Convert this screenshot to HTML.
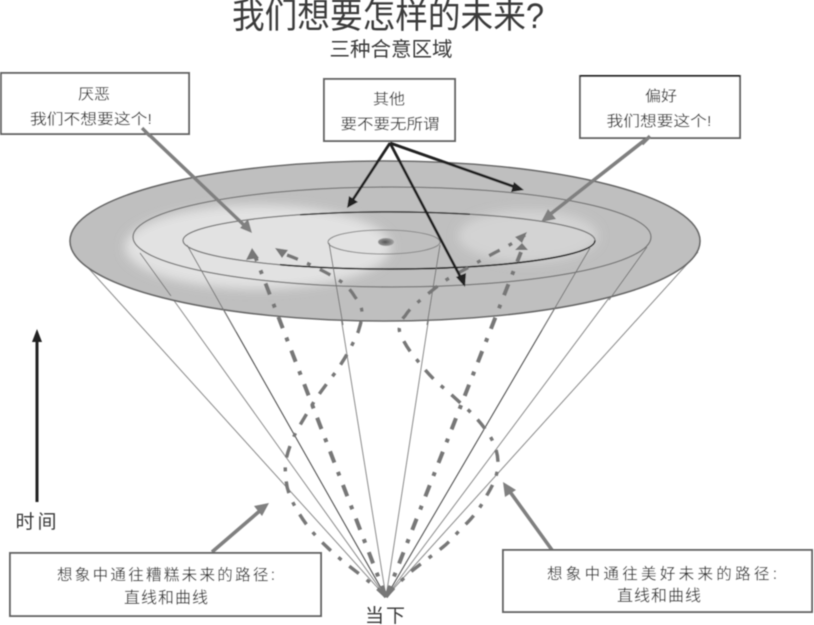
<!DOCTYPE html>
<html><head><meta charset="utf-8">
<style>
html,body{margin:0;padding:0;background:#fff}
svg{display:block}
text{font-family:"Liberation Sans","Noto Sans CJK SC",sans-serif;fill:#3a3a3a;text-anchor:middle}
</style></head>
<body>
<svg width="814" height="625" viewBox="0 0 814 625" xmlns="http://www.w3.org/2000/svg">
<defs>
<filter id="b" x="-20%" y="-30%" width="140%" height="160%"><feGaussianBlur stdDeviation="5"/></filter>
<filter id="s" x="-20%" y="-20%" width="140%" height="140%"><feGaussianBlur stdDeviation="0.45"/></filter>
<clipPath id="disc"><ellipse cx="385" cy="241" rx="315" ry="80"/></clipPath>
<radialGradient id="dot" cx="45%" cy="50%" r="60%"><stop offset="0" stop-color="#555"/><stop offset="1" stop-color="#aaa"/></radialGradient>
</defs>
<g filter="url(#s)">
<!-- cone lines behind -->
<g fill="none" stroke="#8a8a8a" stroke-width="1">
<path d="M72 250L386 597M140 253L386 597M329 243L386 597M440 245L386 597M647 247L386 597M698 252L386 597"/>
<path d="M187 245L386 597M590 248L386 597" stroke="#444"/>
</g>
<!-- disc -->
<ellipse cx="385" cy="241" rx="315" ry="80" fill="#bfbfbf" stroke="#666" stroke-width="1.600"/>
<g clip-path="url(#disc)">
<ellipse cx="258" cy="247" rx="133" ry="42" fill="#e2e2e2" filter="url(#b)"/>
<ellipse cx="528" cy="236" rx="70" ry="26" fill="#d3d3d3" filter="url(#b)"/>
</g>
<ellipse cx="392" cy="237" rx="259" ry="50" fill="none" stroke="#777" stroke-width="1.300"/>
<ellipse cx="389" cy="240.500" rx="206" ry="28.500" fill="none" stroke="#777" stroke-width="1.300"/>
<path d="M595 240.500A206 28.500 0 0 1 280 264.700" fill="none" stroke="#222" stroke-width="1.600"/>
<path d="M300 214.800A206 28.500 0 0 1 470 214.300" fill="none" stroke="#333" stroke-width="1.500"/>
<ellipse cx="384" cy="242" rx="56" ry="12" fill="none" stroke="#8a8a8a" stroke-width="1.100"/>
<ellipse cx="386" cy="242" rx="8" ry="4" fill="url(#dot)"/>
<!-- inner cone lines over disc -->
<path d="M329 243L343 325M440 245L427 325M187 245L236 332M590 248L542 330M140 253L171 296M647 247L609 300" fill="none" stroke="#777" stroke-width="1"/>
<!-- dash paths -->
<g fill="none" stroke="#777" stroke-linecap="butt" stroke-dasharray="12 10 4 10">
<path stroke-width="4" d="M386 597L255 256"/>
<path stroke-width="4" d="M386 597L521 252"/>
<path stroke-width="3.400" d="M386 597C370 580 345 565 327 547C312 533 304 522 297 510C290 498 286 488 286 477C285 470 285 465 286 460C288 450 292 440 297 430C303 420 309 410 315 400C322 390 328 382 335 373C342 363 348 353 353 343C356 337 358 333 359 329C361 323 362 318 362 313C362 307 359 302 355 297C352 292 348 287 343 283C335 277 325 272 315 267C305 262 295 258 287 255"/>
<path stroke-width="3.400" d="M386 597C395 586 404 578 413 570C423 562 433 555 443 547C451 541 459 530 467 523C475 515 482 505 487 495C493 485 498 475 498 463C498 452 494 442 488 433C482 424 474 415 465 407C457 400 449 392 440 385C432 378 424 369 417 360C410 352 404 343 400 333C399 330 399 328 400 327C400 322 402 319 405 316C408 311 412 307 417 303C425 296 434 289 443 282C452 276 462 271 473 265C483 259 492 254 502 249C510 245 518 240 525 235"/>
</g>
<!-- dash arrowheads -->
<g fill="#777">
<polygon points="252,248 246,260 259,258"/>
<polygon points="275,248 288,250 282,258"/>
<polygon points="522,243 515,250 528,250"/>
<polygon points="527,232 515,237 522,243"/>
</g>
<!-- black arrows -->
<g stroke="#222" stroke-width="2.800" fill="none">
<path d="M390 143L352 201M390 143L515 187M390 143L462 280"/>
</g>
<g fill="#222">
<polygon points="347,208 349,196 358,202"/>
<polygon points="524,190 511,192 514,182"/>
<polygon points="465,287 456,277 466,273"/>
</g>
<!-- gray arrows -->
<g stroke="#808080" stroke-width="3.600" fill="none">
<path d="M142 128L246 227M650 136L548 216M212 552L262 509M552 550L508 489"/>
</g>
<g fill="#808080">
<polygon points="252,233 240,228 248,219"/>
<polygon points="541,222 548,209 556,219"/>
<polygon points="269,503 262,516 254,506"/>
<polygon points="503,482 516,490 505,497"/>
</g>
<!-- time arrow -->
<path d="M37 502L37 340" stroke="#222" stroke-width="3" fill="none"/>
<polygon points="37,329 32,342 42,342" fill="#222"/>
<!-- boxes -->
<g fill="#fff" stroke="#666" stroke-width="2">
<rect x="1" y="73" width="188" height="61"/>
<rect x="324" y="79" width="131" height="62"/>
<rect x="580" y="76" width="160" height="62"/>
<rect x="10" y="553" width="311" height="63"/>
<rect x="503" y="550" width="309" height="62"/>
</g>
<path d="M580 76H740" stroke="#222" stroke-width="2"/>
<path d="M142 128L150 136M650 136L642 144" stroke="#808080" stroke-width="3.600"/>
<!-- text -->
<text x="388" y="28" font-size="35" textLength="312" lengthAdjust="spacingAndGlyphs">我们想要怎样的未来?</text>
<text x="391" y="56" font-size="20" textLength="123" lengthAdjust="spacingAndGlyphs">三种合意区域</text>
<text x="94" y="99" font-size="15" textLength="32" lengthAdjust="spacingAndGlyphs">厌恶</text>
<text x="91" y="124" font-size="15" textLength="122" lengthAdjust="spacingAndGlyphs">我们不想要这个!</text>
<text x="389" y="104" font-size="15" textLength="32" lengthAdjust="spacingAndGlyphs">其他</text>
<text x="390" y="129" font-size="15" textLength="99" lengthAdjust="spacingAndGlyphs">要不要无所谓</text>
<text x="661" y="101" font-size="15" textLength="32" lengthAdjust="spacingAndGlyphs">偏好</text>
<text x="659" y="126" font-size="15" textLength="105" lengthAdjust="spacingAndGlyphs">我们想要这个!</text>
<text x="166" y="580" font-size="15.500" textLength="218" lengthAdjust="spacing">想象中通往糟糕未来的路径:</text>
<text x="166" y="603" font-size="16" textLength="84" lengthAdjust="spacing">直线和曲线</text>
<text x="662" y="579" font-size="15.500" textLength="230" lengthAdjust="spacing">想象中通往美好未来的路径:</text>
<text x="659" y="601" font-size="16" textLength="84" lengthAdjust="spacing">直线和曲线</text>
<text x="36" y="528" font-size="19" textLength="41" lengthAdjust="spacing">时间</text>
<text x="385" y="622" font-size="19" textLength="40" lengthAdjust="spacing">当下</text>
</g>
</svg>
</body></html>
